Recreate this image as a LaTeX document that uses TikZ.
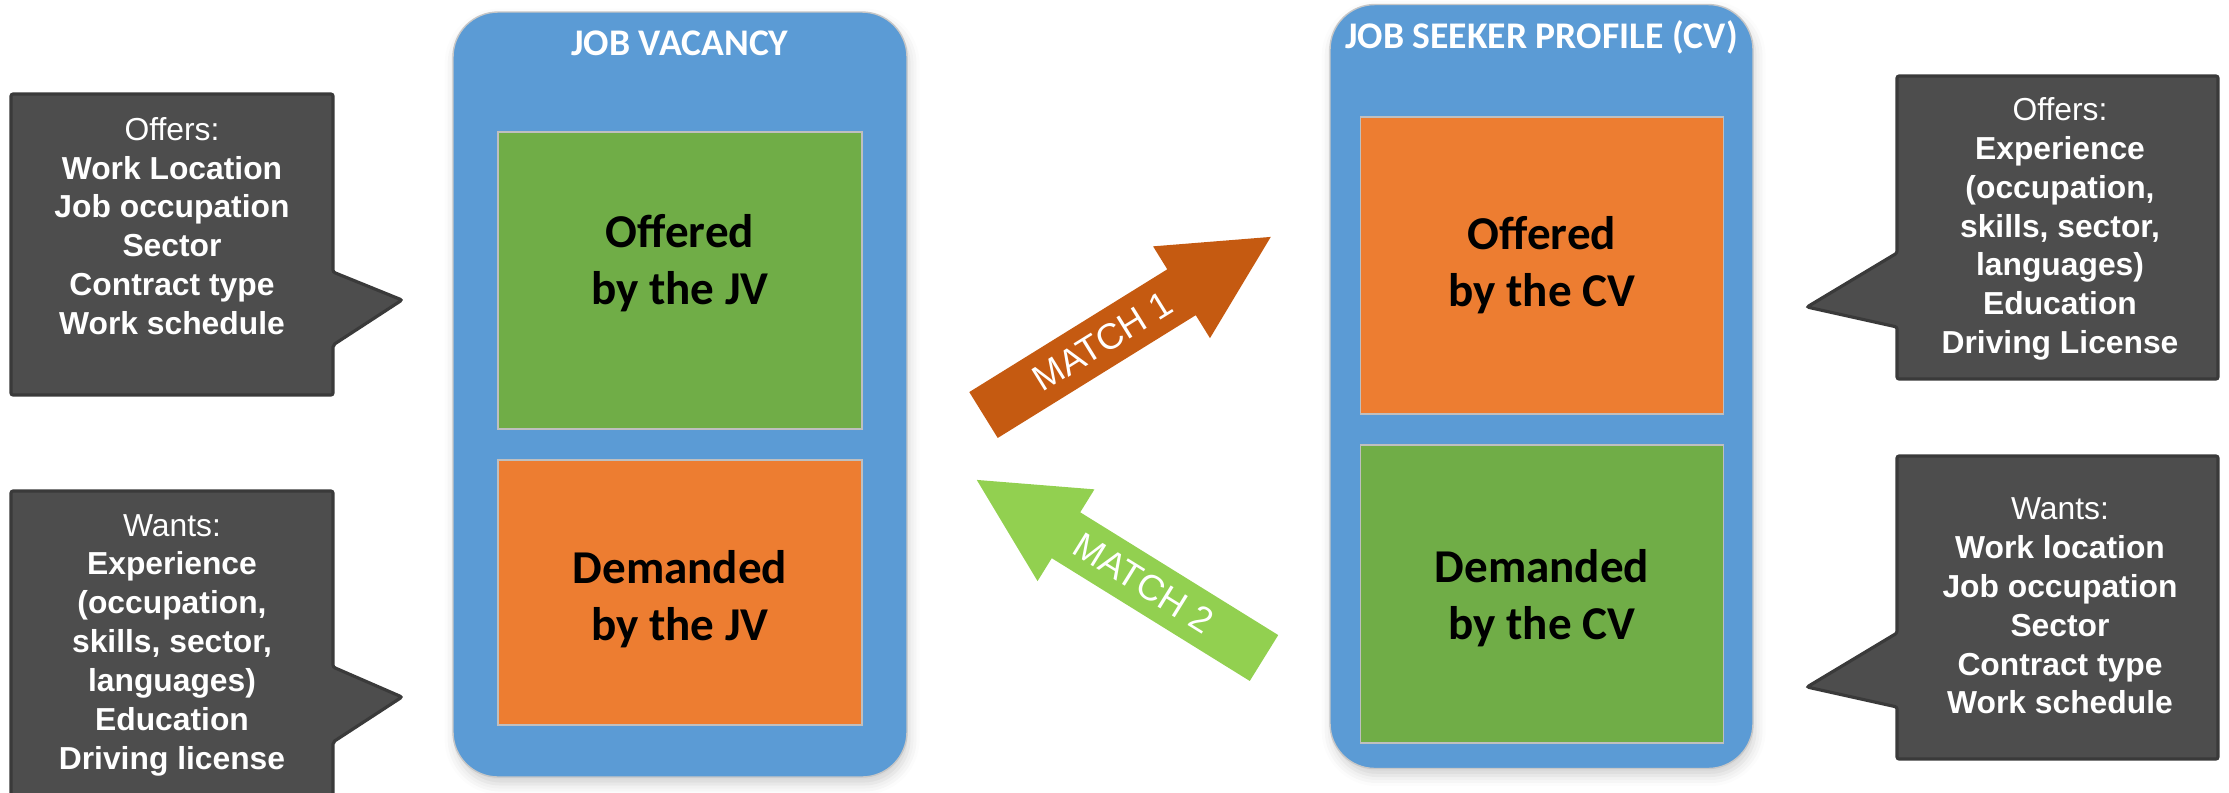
\documentclass[tikz,border=0pt]{standalone}
\usepackage{fontspec}
\setmainfont{Liberation Sans}
\newfontfamily\calibri{Carlito}
\usetikzlibrary{shadows.blur}
\definecolor{jvblue}{HTML}{5B9BD5}
\definecolor{jvgreen}{HTML}{70AD47}
\definecolor{jvorange}{HTML}{ED7D31}
\definecolor{matchone}{HTML}{C55A11}
\definecolor{matchtwo}{HTML}{92D050}
\definecolor{bubblefill}{HTML}{4D4D4D}
\definecolor{bubbleline}{HTML}{3A3A3A}
\tikzset{
	profile/.style={fill=jvblue,draw=black!22,line width=0.4pt,rounded corners=0.45cm,
		blur shadow={shadow xshift=0.6pt,shadow yshift=-2pt,shadow blur radius=3pt,shadow opacity=18}},
	part/.style={draw=black!25,line width=0.4pt,minimum width=3.64cm,minimum height=2.97cm},
	parttext/.style={align=center,font=\calibri\bfseries\fontsize{13.4}{16.2}\selectfont},
	head/.style={text=white,font=\calibri\bfseries\fontsize{10.7}{12}\selectfont},
	bubble/.style={fill=bubblefill,draw=bubbleline,line width=0.9pt,rounded corners=0.6pt},
	bubbletext/.style={text=white,align=center,font=\fontsize{9.05}{11.05}\selectfont},
	matchtext/.style={text=white,font=\fontsize{10.3}{12}\selectfont}
}
\begin{document}
\begin{tikzpicture}[x=0.1mm,y=-0.1mm]
		\useasboundingbox (0,0) rectangle (2229,792);
		\clip (0,0) rectangle (2229,792);
		% the two profiles
		\node[profile,minimum width=4.54cm,minimum height=7.65cm] (jv) at (680,394.5) {};
		\node[profile,minimum width=4.23cm,minimum height=7.64cm] (cv) at (1541.5,386.5) {};
		\node[head,anchor=base] (jvhead) at (680,55) {JOB VACANCY};
		\node[head,anchor=base] (cvhead) at (1541.5,48) {JOB SEEKER PROFILE (CV)};
		\node[part,fill=jvgreen] (jvoffer) at (680,280.5) {};
		\node[part,fill=jvorange,minimum height=2.65cm] (jvdemand) at (680,592.5) {};
		\node[part,fill=jvorange,minimum width=3.63cm] (cvoffer) at (1542,265.5) {};
		\node[part,fill=jvgreen,minimum width=3.63cm,minimum height=2.98cm] (cvdemand) at (1542,594) {};
		\node[parttext] (jvoffertext) at (680,263) {Offered\\by the JV};
		\node[parttext] (jvdemandtext) at (680,599) {Demanded\\by the JV};
		\node[parttext] (cvoffertext) at (1542,265.5) {Offered\\by the CV};
		\node[parttext] (cvdemandtext) at (1542,598) {Demanded\\by the CV};
		% callouts
		\draw[bubble] (11,94) -- (333,94) -- (333,272) -- (402,300) -- (333,345) -- (333,395) -- (11,395) -- cycle;
		\node[bubbletext] (jvoffers) at (172,226) {Offers:\\\textbf{Work Location}\\\textbf{Job occupation}\\\textbf{Sector}\\\textbf{Contract type}\\\textbf{Work schedule}};
		\draw[bubble] (11,491) -- (333,491) -- (333,667) -- (402,697) -- (333,742) -- (333,820) -- (11,820) -- cycle;
		\node[bubbletext] (jvwants) at (172,645) {Wants:\\\textbf{Experience}\\\textbf{(occupation,}\\\textbf{skills, sector,}\\\textbf{languages)}\\\textbf{Education}\\\textbf{Driving license}};
		\draw[bubble] (1897,76) -- (2218,76) -- (2218,379) -- (1897,379) -- (1897,327) -- (1807,307) -- (1897,253) -- cycle;
		\node[bubbletext] (cvoffers) at (2060,229) {Offers:\\\textbf{Experience}\\\textbf{(occupation,}\\\textbf{skills, sector,}\\\textbf{languages)}\\\textbf{Education}\\\textbf{Driving License}};
		\draw[bubble] (1897,456) -- (2218,456) -- (2218,759) -- (1897,759) -- (1897,707) -- (1807,687) -- (1897,633) -- cycle;
		\node[bubbletext] (cvwants) at (2060,606) {Wants:\\\textbf{Work location}\\\textbf{Job occupation}\\\textbf{Sector}\\\textbf{Contract type}\\\textbf{Work schedule}};
		% match arrows
		\begin{scope}[shift={(983.5,415)},rotate=31.8]
			\fill[matchone] (0,-27) -- (233,-27) -- (233,-54) -- (338,0) -- (233,54) -- (233,27) -- (0,27) -- cycle;
			\node[matchtext,rotate=31.8] (match1) at (140,0) {MATCH 1};
		\end{scope}
		\begin{scope}[shift={(1264,658)},rotate=148.2]
			\fill[matchtwo] (0,-27) -- (233,-27) -- (233,-54) -- (338,0) -- (233,54) -- (233,27) -- (0,27) -- cycle;
			\node[matchtext,rotate=-31.8] (match2) at (142,0) {MATCH 2};
		\end{scope}
		\end{tikzpicture}
\end{document}
